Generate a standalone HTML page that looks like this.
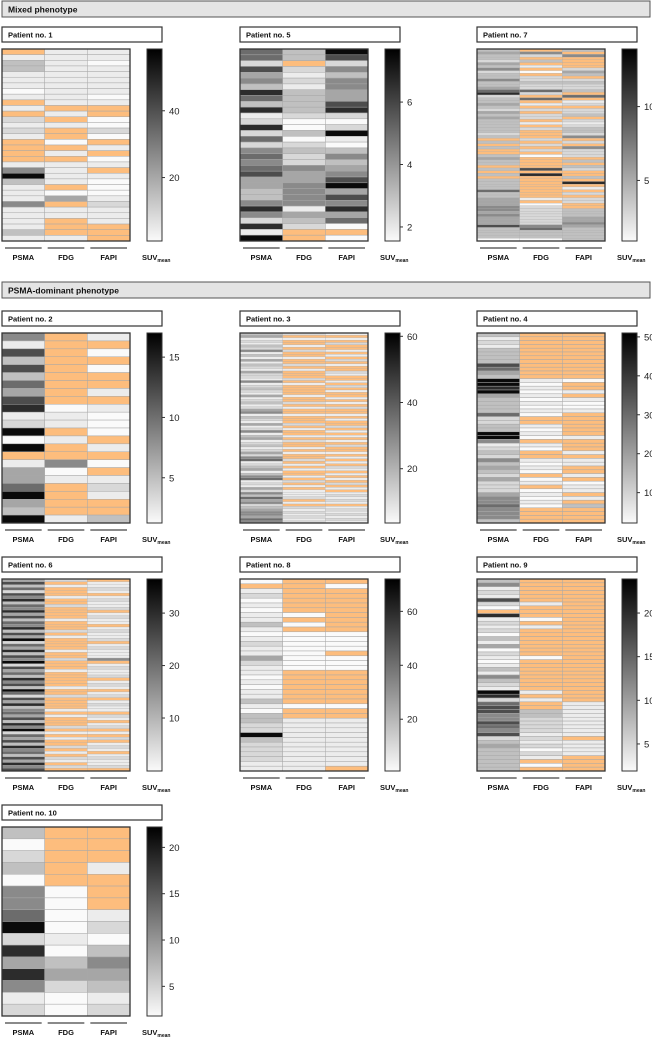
<!DOCTYPE html>
<html><head><meta charset="utf-8">
<style>
body{margin:0;background:#fff;width:652px;height:1039px;overflow:hidden;font-family:"Liberation Sans",sans-serif}
svg{display:block}
</style></head>
<body>
<svg id="fig" width="652" height="1039"></svg>
<script>
// levels 0 (white) .. 9 (black); 'o' = orange cell
const p1_psma = "o13311101o1o2121oooo15931115111131";
const p1_fdg  = "1111111111o1o1oo0o1o1111o04o11ooo1";
const p1_fapi = "1101111101oo0020o1o01o100012111ooo";
const p5_psma = "66274538638128262565674433585281 9".replace(/ /g,'');
const p5_fdg  = "33o2121333320030232254455551432oo";
const p5_fapi = "9725355447820291035345794758460o";
const p7_psma = "343324352335334682334324343333323o3o3oo3433o3o3o3333633444554544473333";
const p7_fdg  = "o52o3o1o0o2232262o6o1o2o22o1o2ooo2o2o2o0oooo7o8oooooooo1o0222222256333";
const p7_fapi = "3o5oooo243o23223o6o12o223o2123325o2o5222o3o32oo3o8o1o2o22oo333445433333";
const p2_psma = "517373647812909o14469439";
const p2_fdg  = "ooooooooo011o1oo501oooo1";
const p2_fapi = "1o0o0oo1o1000o1o0o121oo3";
const p3_psma = "34121325131413214221512321412312451321412513412312425612341356121425364523455465";
const p3_fdg  = "2o1oo1o2oo1oo2o1ooo2o1oooo1oo2o1oo1ooo2o1oo1o2oo1o1oo2o1o1oo1o2o1o1112o1o2121212";
const p3_fapi = "1o1o2oo1o1o2o1oo21oo1o2o1oo1o1o2oo1o1oo2o1o1o1o2oo1o1o1o21o1o1o2o1o12121o1212121";
const p4_psma = "31213333764399894333362233995123253432422245565553";
const p4_fdg  = "oooooooooooo1010101010oo1010o10oo1010o01o01010oooo";
const p4_fapi = "oooooooooooo0oo1o1001oooooo1ooo1o11oo1o011o1o3oooo";
const p6_psma = "47362758365847365837492648375927463857396274835647385926473856374857";
const p6_fdg  = "2o1ooo1oo2oooo1ooo2o1oooo1oo2ooo1ooooo1oo2oooo1o1ooo2o1o1oo2o1o21o2o";
const p6_fapi = "o1121o12112o1211o12112o121115o12112o121o12o1211o21o12o1o2o121o12112o";
const p8_psma = "0o12010113101211421101011310332293222211";
const p8_fdg  = "ooooooo0o0o00000000ooooooo0oo11111111111";
const p8_fapi = "o0ooooooooo0000o000ooooooo0oo1111111111o";
const p9_psma = "3512172"+"0o8"+"1212031402"+"1013153219"+"8267755765"+"7234333333";
const p9_fdg  = "oooooo1ooo0o1ooooooo0oooooooo1o1oo3322221212021o0o";
const p9_fapi = "oooooooooooooooooooooooooooooooo111111111o1111oooo";
const p10_psma = "3023055692848512";
const p10_fdg  = "ooooo00001034200";
const p10_fapi = "ooo1ooo120354312";
// colorbar ranges and ticks
const p1_ticks=[20,40], p5_ticks=[2,4,6], p7_ticks=[5,10], p2_ticks=[5,10,15], p3_ticks=[20,40,60];
const p4_ticks=[10,20,30,40,50], p6_ticks=[10,20,30], p8_ticks=[20,40,60], p9_ticks=[5,10,15,20], p10_ticks=[5,10,15,20];
const ranges={1:[1,58.5],5:[1.55,7.7],7:[0.9,13.9],2:[1.25,17],3:[3.6,61],4:[2.2,51],6:[-0.1,36.5],8:[0.8,72],9:[1.9,23.9],10:[1.8,22.2]};

const NS="http://www.w3.org/2000/svg";
const svg=document.getElementById('fig');
function mk(tag,attrs,parent){const e=document.createElementNS(NS,tag);for(const k in attrs)e.setAttribute(k,attrs[k]);(parent||svg).appendChild(e);return e;}
function colorOf(ch){if(ch==='o')return '#fdbd7d';const l=+ch;const g=Math.round(250-240*Math.pow(l/9,1.3));return `rgb(${g},${g},${g})`;}

function header(y,text,name){
  const g=mk('g',{});
  
  
  mk('rect',{x:2,y:y,width:648,height:16,fill:'#e4e4e4',stroke:'#555','stroke-width':1},g);
  const t=mk('text',{x:8,y:y+11.5,'font-size':8.5,'font-weight':'bold',fill:'#111'},g);t.textContent=text;
}
header(1,'Mixed phenotype','mixed-phenotype-header');
header(282,'PSMA-dominant phenotype','psma-dominant-header');

function panel(num,x0,top,bottom,cols,ticks){
  const g=mk('g',{});
  
  
  const tb=mk('rect',{x:x0,y:top-22,width:160,height:15,fill:'#fff',stroke:'#333','stroke-width':1.2},g);
  
  
  const tt=mk('text',{x:x0+6,y:top-11.5,'font-size':7.5,'font-weight':'bold',fill:'#111'},g);tt.textContent='Patient no. '+num;
  const W=128,cw=W/3,n=Math.max(...cols.map(c=>c.length)),rh=(bottom-top)/n;
  const rowY=i=>top+i*rh, colX=j=>x0+j*cw;
  cols.forEach((c,j)=>{for(let i=0;i<n;i++){const ch=c[i]||'0';
    const r=mk('rect',{x:colX(j),y:rowY(i),width:cw,height:rh,fill:colorOf(ch),stroke:'#a8a8a8','stroke-width':rh>3?0.5:0.25},g);
    
    
  }});
  mk('rect',{x:x0,y:top,width:W,height:bottom-top,fill:'none',stroke:'#333','stroke-width':1.3},g);
  ['PSMA','FDG','FAPI'].forEach((l,j)=>{
    mk('line',{x1:colX(j)+3,x2:colX(j)+cw-3,y1:bottom+7,y2:bottom+7,stroke:'#444','stroke-width':1.3},g);
    const t=mk('text',{x:colX(j)+cw/2,y:bottom+19,'text-anchor':'middle','font-size':7.5,'font-weight':'bold',fill:'#111'},g);t.textContent=l;
    
    
  });
  const id='grad'+num;
  const d=mk('defs',{},g);const lg=mk('linearGradient',{id:id,x1:0,y1:1,x2:0,y2:0},d);
  mk('stop',{offset:0,'stop-color':'#fafafa'},lg);mk('stop',{offset:1,'stop-color':'#000'},lg);
  const cb=mk('rect',{x:x0+145,y:top,width:15,height:bottom-top,fill:`url(#${id})`,stroke:'#333','stroke-width':1},g);
  
  
  const [mn,mx]=ranges[num];const ys=v=>bottom-(v-mn)/(mx-mn)*(bottom-top);
  ticks.forEach(v=>{mk('line',{x1:x0+160,x2:x0+163,y1:ys(v),y2:ys(v),stroke:'#333','stroke-width':1},g);
    const t=mk('text',{x:x0+167,y:ys(v)+3.5,'font-size':9.5,fill:'#222'},g);t.textContent=v;});
  const s=mk('text',{x:x0+140,y:bottom+19,'font-size':7.5,'font-weight':'bold',fill:'#111'},g);s.textContent='SUV';
  const sb=mk('tspan',{'font-size':5,dy:2},s);sb.textContent='mean';
}
panel(1,2,49,241,[p1_psma,p1_fdg,p1_fapi],p1_ticks);
panel(5,240,49,241,[p5_psma,p5_fdg,p5_fapi],p5_ticks);
panel(7,477,49,241,[p7_psma,p7_fdg,p7_fapi],p7_ticks);
panel(2,2,333,523,[p2_psma,p2_fdg,p2_fapi],p2_ticks);
panel(3,240,333,523,[p3_psma,p3_fdg,p3_fapi],p3_ticks);
panel(4,477,333,523,[p4_psma,p4_fdg,p4_fapi],p4_ticks);
panel(6,2,579,771,[p6_psma,p6_fdg,p6_fapi],p6_ticks);
panel(8,240,579,771,[p8_psma,p8_fdg,p8_fapi],p8_ticks);
panel(9,477,579,771,[p9_psma,p9_fdg,p9_fapi],p9_ticks);
panel(10,2,827,1016,[p10_psma,p10_fdg,p10_fapi],p10_ticks);
</script>
</body></html>
